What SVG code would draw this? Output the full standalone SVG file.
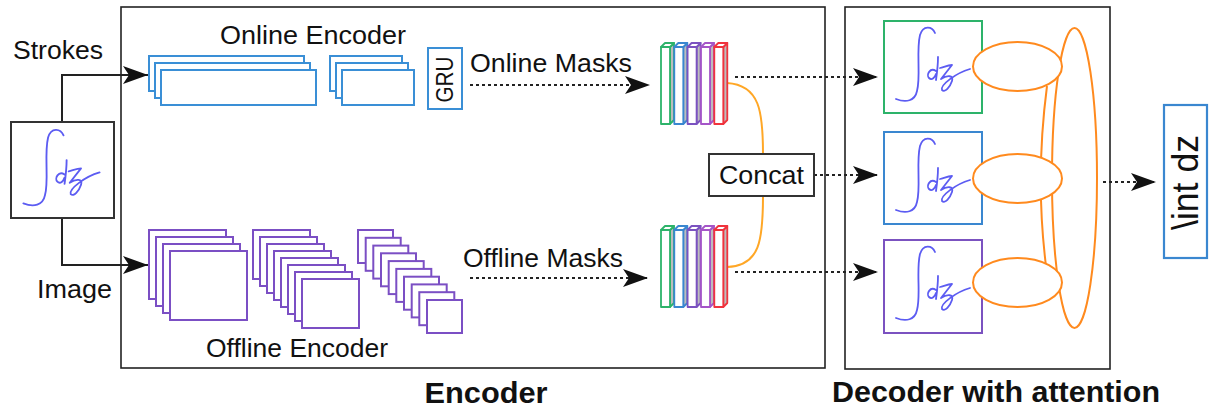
<svg xmlns="http://www.w3.org/2000/svg" xmlns:xlink="http://www.w3.org/1999/xlink" width="1210" height="409" viewBox="0 0 1210 409">
  <style>
    text { font-family: "Liberation Sans", Arial, sans-serif; fill: #111; }
    .lbl { font-size: 26.5px; }
    .title { font-size: 29px; font-weight: bold; }
    .frame { fill: none; stroke: #222; stroke-width: 1.6; }
    .box { fill: #fff; stroke: #333; stroke-width: 2; }
    .on { fill: #fff; stroke: #3a8fd6; stroke-width: 2; }
    .off { fill: #fff; stroke: #7b4fc4; stroke-width: 2; }
    .solid { fill: none; stroke: #222; stroke-width: 2; }
    .dot { fill: none; stroke: #222; stroke-width: 1.8; stroke-dasharray: 3 3; }
    .att { fill: none; stroke: #ff8a1e; stroke-width: 2; }
    .attw { fill: #fff; stroke: #ff8a1e; stroke-width: 2; }
    .cat { fill: none; stroke: #ffa726; stroke-width: 2; }
  </style>
  <defs>
    <marker id="arr" markerUnits="userSpaceOnUse" markerWidth="26" markerHeight="18" refX="25" refY="9" orient="auto">
      <path d="M0,0 L25,9 L0,18 L6,9 Z" fill="#111"/>
    </marker>
    <!-- handwritten integral sign with dz -->
    <g id="scribble" fill="none" stroke="#5c5cf2" stroke-width="1.8" stroke-linecap="round" stroke-linejoin="round">
      <path d="M51,12 C48,5 39,4 36,14 C32,30 37,56 33,70 C31,80 22,82 12,78"/>
      <path d="M54,36 C54,44 53,52 52,59 M52,50 C46,46 42,54 45,57 C48,60 51,56 52,53"/>
      <path d="M56,47 C60,46 64,44 68,44 L57,58 C63,54 70,54 68,60 C66,66 61,72 58,69 C56,64 72,52 86,48"/>
    </g>
    <!-- one 3D mask slice; colour comes from the use element -->
    <g id="bar" stroke="currentColor" stroke-width="1.8" stroke-linejoin="round">
      <path d="M9,0 L13,-4 L13,73 L9,77 Z" fill="#bdbdbd"/>
      <path d="M0,0 L4,-4 L13,-4 L9,0 Z" fill="#fff"/>
      <rect x="0" y="0" width="9" height="77" fill="#fff"/>
    </g>
    <g id="masks">
      <use xlink:href="#bar" x="0" color="#2db36a"/>
      <use xlink:href="#bar" x="13.3" color="#3a87d0"/>
      <use xlink:href="#bar" x="26.6" color="#7b52c0"/>
      <use xlink:href="#bar" x="40" color="#a555c8"/>
      <use xlink:href="#bar" x="53.3" color="#f0333d"/>
    </g>
  </defs>

  <rect width="1210" height="409" fill="#fff"/>

  <!-- section frames -->
  <rect class="frame" x="121" y="7" width="704" height="361"/>
  <rect class="frame" x="845" y="7" width="265" height="362"/>

  <!-- connectors -->
  <g id="connectors">
    <path class="solid" d="M62,122 V75 H148" marker-end="url(#arr)"/>
    <path class="solid" d="M62,218 V265 H148" marker-end="url(#arr)"/>
    <path class="dot" d="M470,85 H650" marker-end="url(#arr)"/>
    <path class="dot" d="M470,278 H648" marker-end="url(#arr)"/>
    <path class="cat" d="M727,83 C760,85 763,112 763,154"/>
    <path class="cat" d="M763,196 C763,240 760,266 727,267"/>
    <path class="dot" d="M735,77 H878" marker-end="url(#arr)"/>
    <path class="dot" d="M814,175 H878" marker-end="url(#arr)"/>
    <path class="dot" d="M735,272 H878" marker-end="url(#arr)"/>
    <path class="dot" d="M1103,182 H1156" marker-end="url(#arr)"/>
  </g>

  <!-- input image -->
  <g id="input-image">
    <rect class="box" x="11" y="122" width="103" height="96"/>
    <use xlink:href="#scribble" transform="translate(11,123) scale(1.03)"/>
  </g>
  <text class="lbl" x="13" y="59" textLength="90" lengthAdjust="spacingAndGlyphs">Strokes</text>
  <text class="lbl" x="37" y="298" textLength="75" lengthAdjust="spacingAndGlyphs">Image</text>

  <!-- online encoder -->
  <g id="online-encoder">
    <text class="lbl" x="220" y="44" textLength="186" lengthAdjust="spacingAndGlyphs">Online Encoder</text>
    <rect class="on" x="149" y="56" width="155" height="35"/>
    <rect class="on" x="155" y="63" width="155" height="35"/>
    <rect class="on" x="161" y="70" width="155" height="35"/>
    <rect class="on" x="330" y="56" width="72" height="35"/>
    <rect class="on" x="336" y="63" width="72" height="35"/>
    <rect class="on" x="342" y="70" width="72" height="35"/>
  </g>
  <g id="gru">
    <rect class="on" x="428" y="48" width="34" height="61"/>
    <text transform="translate(453,79.5) rotate(-90)" text-anchor="middle" style="font-size:23px" textLength="46" lengthAdjust="spacingAndGlyphs">GRU</text>
  </g>
  <text class="lbl" x="470" y="72" textLength="162" lengthAdjust="spacingAndGlyphs">Online Masks</text>

  <!-- offline encoder -->
  <g id="offline-encoder">
    <rect class="off" x="149" y="230" width="77" height="69"/>
    <rect class="off" x="156" y="237" width="77" height="69"/>
    <rect class="off" x="163" y="244" width="77" height="69"/>
    <rect class="off" x="170" y="251" width="77" height="69"/>

    <rect class="off" x="253" y="230" width="57" height="49"/>
    <rect class="off" x="260" y="237" width="57" height="49"/>
    <rect class="off" x="267" y="244" width="57" height="49"/>
    <rect class="off" x="274" y="251" width="57" height="49"/>
    <rect class="off" x="281" y="258" width="57" height="49"/>
    <rect class="off" x="288" y="265" width="57" height="49"/>
    <rect class="off" x="295" y="272" width="57" height="49"/>
    <rect class="off" x="302" y="279" width="57" height="49"/>

    <rect class="off" x="358" y="230" width="35" height="33"/>
    <rect class="off" x="365.7" y="237.8" width="35" height="33"/>
    <rect class="off" x="373.3" y="245.6" width="35" height="33"/>
    <rect class="off" x="381" y="253.3" width="35" height="33"/>
    <rect class="off" x="388.7" y="261.1" width="35" height="33"/>
    <rect class="off" x="396.3" y="268.9" width="35" height="33"/>
    <rect class="off" x="404" y="276.7" width="35" height="33"/>
    <rect class="off" x="411.7" y="284.4" width="35" height="33"/>
    <rect class="off" x="419.3" y="292.2" width="35" height="33"/>
    <rect class="off" x="427" y="300" width="35" height="33"/>
    <text class="lbl" x="206" y="357" textLength="182" lengthAdjust="spacingAndGlyphs">Offline Encoder</text>
  </g>
  <text class="lbl" x="463" y="267" textLength="160" lengthAdjust="spacingAndGlyphs">Offline Masks</text>

  <!-- mask stacks -->
  <g id="online-masks">
    <use xlink:href="#masks" transform="translate(661,47)"/>
  </g>
  <g id="offline-masks">
    <use xlink:href="#masks" transform="translate(661,230)"/>
  </g>

  <!-- concat -->
  <g id="concat">
    <rect class="box" x="709" y="154" width="105" height="42"/>
    <text class="lbl" x="761.5" y="184" text-anchor="middle" textLength="85" lengthAdjust="spacingAndGlyphs">Concat</text>
  </g>

  <!-- decoder with attention -->
  <g id="dec-1">
    <rect x="884" y="21" width="98" height="92" fill="#fff" stroke="#2db36a" stroke-width="2"/>
    <use xlink:href="#scribble" transform="translate(884,21)"/>
  </g>
  <g id="dec-2">
    <rect x="884" y="132" width="98" height="92" fill="#fff" stroke="#3a87d0" stroke-width="2"/>
    <use xlink:href="#scribble" transform="translate(884,132)"/>
  </g>
  <g id="dec-3">
    <rect x="884" y="240" width="98" height="93" fill="#fff" stroke="#7b52c0" stroke-width="2"/>
    <use xlink:href="#scribble" transform="translate(884,240)"/>
  </g>
  <g id="attention">
    <ellipse class="att" cx="1074.5" cy="178" rx="22.5" ry="150"/>
    <path class="att" d="M1047,86 Q1035,178 1046,266"/>
    <ellipse class="attw" cx="1017.5" cy="66.5" rx="44.5" ry="24.5"/>
    <ellipse class="attw" cx="1017.5" cy="178.5" rx="44.5" ry="24.5"/>
    <ellipse class="attw" cx="1017.5" cy="282.5" rx="44.5" ry="24.5"/>
  </g>

  <!-- output -->
  <g id="output">
    <rect x="1164" y="105" width="43" height="153" fill="#fff" stroke="#3a87d0" stroke-width="2.2"/>
    <text transform="translate(1198,182.5) rotate(-90)" text-anchor="middle" style="font-size:37px" textLength="95" lengthAdjust="spacingAndGlyphs">\int dz</text>
  </g>

  <!-- section titles -->
  <text class="title" x="486" y="403" text-anchor="middle" textLength="123" lengthAdjust="spacingAndGlyphs">Encoder</text>
  <text class="title" x="832" y="402" textLength="328" lengthAdjust="spacingAndGlyphs">Decoder with attention</text>
</svg>
